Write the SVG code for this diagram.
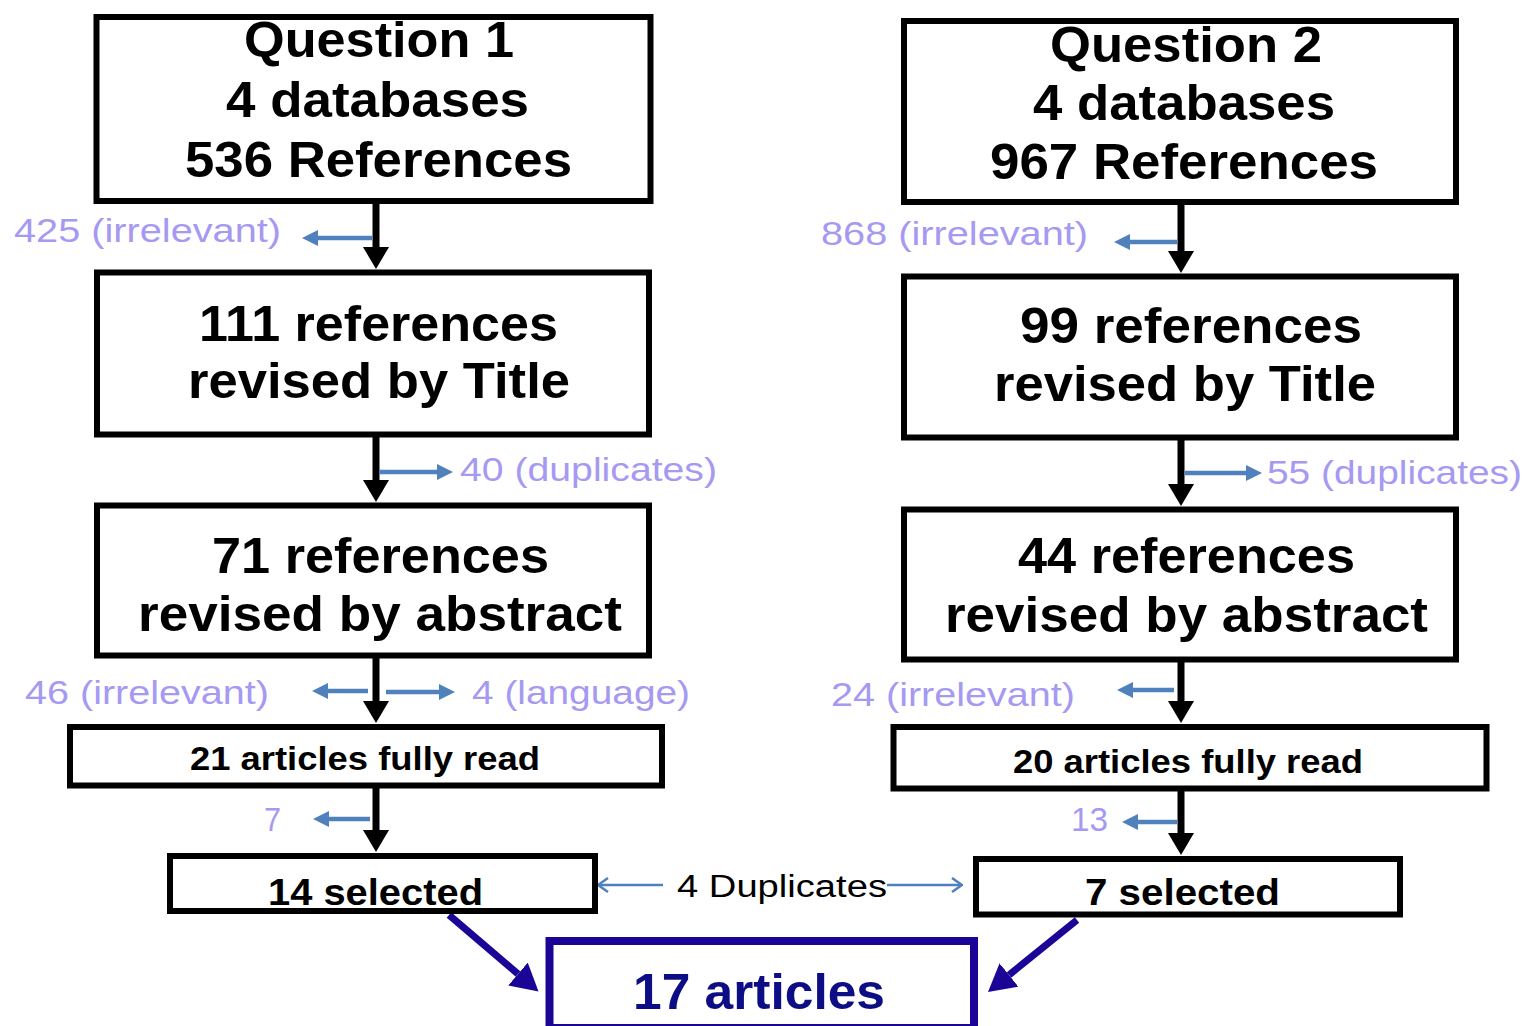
<svg xmlns="http://www.w3.org/2000/svg" width="1525" height="1026" viewBox="0 0 1525 1026">
  <style>
    .box { fill: #ffffff; stroke: #000000; stroke-width: 6; }
    .final { fill: #ffffff; stroke: #1a0596; stroke-width: 8; }
    .t { font-family: "Liberation Sans", Arial, sans-serif; font-weight: bold; fill: #000000; }
    .big { font-size: 50px; }
    .mid { font-size: 33px; }
    .sel { font-size: 36px; }
    .note { font-family: "Liberation Sans", Arial, sans-serif; font-size: 34px; fill: #a699f2; }
    .dup { font-family: "Liberation Sans", Arial, sans-serif; font-size: 31px; fill: #000000; }
    .flow { stroke: #000000; stroke-width: 7; fill: none; }
    .side { stroke: #4f81bd; stroke-width: 4.5; fill: none; }
    .thin { stroke: #4f81bd; stroke-width: 2.5; fill: none; }
    .navy { stroke: #1a0596; stroke-width: 7; fill: none; }
  </style>
  <defs>
    <marker id="headBlack" markerUnits="userSpaceOnUse" viewBox="0 0 22 26" refX="0" refY="13" markerWidth="22" markerHeight="26" orient="auto">
      <path d="M0,0 L22,13 L0,26 Z" fill="#000000"/>
    </marker>
    <marker id="headBlue" markerUnits="userSpaceOnUse" viewBox="0 0 16 16" refX="0" refY="8" markerWidth="16" markerHeight="16" orient="auto">
      <path d="M0,0 L16,8 L0,16 Z" fill="#4f81bd"/>
    </marker>
    <marker id="headOpen" markerUnits="userSpaceOnUse" viewBox="0 0 12 16" refX="11" refY="8" markerWidth="12" markerHeight="16" orient="auto">
      <path d="M1,1 L11,8 L1,15" fill="none" stroke="#4f81bd" stroke-width="2.5"/>
    </marker>
    <marker id="headNavy" markerUnits="userSpaceOnUse" viewBox="0 0 27 30" refX="0" refY="15" markerWidth="27" markerHeight="30" orient="auto">
      <path d="M0,0 L27,15 L0,30 Z" fill="#1a0596"/>
    </marker>
  </defs>

  <!-- connectors -->
  <g id="connectors">
    <!-- main vertical flow, left column -->
    <line class="flow" x1="376" y1="204" x2="376" y2="247" marker-end="url(#headBlack)"/>
    <line class="flow" x1="376" y1="437" x2="376" y2="480" marker-end="url(#headBlack)"/>
    <line class="flow" x1="376" y1="658" x2="376" y2="701" marker-end="url(#headBlack)"/>
    <line class="flow" x1="376" y1="788" x2="376" y2="830" marker-end="url(#headBlack)"/>
    <!-- main vertical flow, right column -->
    <line class="flow" x1="1181" y1="204" x2="1181" y2="251" marker-end="url(#headBlack)"/>
    <line class="flow" x1="1181" y1="440" x2="1181" y2="484" marker-end="url(#headBlack)"/>
    <line class="flow" x1="1181" y1="662" x2="1181" y2="701" marker-end="url(#headBlack)"/>
    <line class="flow" x1="1181" y1="791" x2="1181" y2="833" marker-end="url(#headBlack)"/>
    <!-- exclusions branching off the flow -->
    <line class="side" x1="372" y1="238" x2="318" y2="238" marker-end="url(#headBlue)"/>
    <line class="side" x1="1177" y1="242" x2="1130" y2="242" marker-end="url(#headBlue)"/>
    <line class="side" x1="379" y1="472" x2="437" y2="472" marker-end="url(#headBlue)"/>
    <line class="side" x1="1185" y1="473" x2="1246" y2="473" marker-end="url(#headBlue)"/>
    <line class="side" x1="368" y1="691" x2="328" y2="691" marker-end="url(#headBlue)"/>
    <line class="side" x1="386" y1="692" x2="439" y2="692" marker-end="url(#headBlue)"/>
    <line class="side" x1="1174" y1="690" x2="1133" y2="690" marker-end="url(#headBlue)"/>
    <line class="side" x1="370" y1="819" x2="329" y2="819" marker-end="url(#headBlue)"/>
    <line class="side" x1="1177" y1="822" x2="1138" y2="822" marker-end="url(#headBlue)"/>
    <!-- duplicates between the two selections -->
    <line class="thin" x1="663" y1="885" x2="598" y2="885" marker-end="url(#headOpen)"/>
    <line class="thin" x1="887" y1="885" x2="962" y2="885" marker-end="url(#headOpen)"/>
    <!-- merge into the final set -->
    <line class="navy" x1="449" y1="915" x2="518" y2="974" marker-end="url(#headNavy)"/>
    <line class="navy" x1="1077" y1="920" x2="1009" y2="975" marker-end="url(#headNavy)"/>
  </g>

  <!-- left column -->
  <g id="q1">
    <rect class="box" x="96.5" y="17" width="554" height="184"/>
    <text class="t big" x="244" y="57" textLength="270" lengthAdjust="spacingAndGlyphs">Question 1</text>
    <text class="t big" x="226" y="117" textLength="303" lengthAdjust="spacingAndGlyphs">4 databases</text>
    <text class="t big" x="185" y="177" textLength="387" lengthAdjust="spacingAndGlyphs">536 References</text>
  </g>
  <g id="q1-title">
    <rect class="box" x="97" y="272.5" width="552" height="162"/>
    <text class="t big" x="199" y="341" textLength="359" lengthAdjust="spacingAndGlyphs">111 references</text>
    <text class="t big" x="188" y="398" textLength="382" lengthAdjust="spacingAndGlyphs">revised by Title</text>
  </g>
  <g id="q1-abstract">
    <rect class="box" x="97" y="505.5" width="552" height="150"/>
    <text class="t big" x="212" y="573" textLength="337" lengthAdjust="spacingAndGlyphs">71 references</text>
    <text class="t big" x="138" y="631" textLength="484" lengthAdjust="spacingAndGlyphs">revised by abstract</text>
  </g>
  <g id="q1-read">
    <rect class="box" x="70" y="727" width="592" height="58.5"/>
    <text class="t mid" x="190" y="770" textLength="350" lengthAdjust="spacingAndGlyphs">21 articles fully read</text>
  </g>
  <g id="q1-selected">
    <rect class="box" x="170" y="856" width="425" height="55"/>
    <text class="t sel" x="268" y="905" textLength="215" lengthAdjust="spacingAndGlyphs">14 selected</text>
  </g>

  <!-- right column -->
  <g id="q2">
    <rect class="box" x="904" y="21" width="552" height="181"/>
    <text class="t big" x="1050" y="62" textLength="272" lengthAdjust="spacingAndGlyphs">Question 2</text>
    <text class="t big" x="1033" y="120" textLength="302" lengthAdjust="spacingAndGlyphs">4 databases</text>
    <text class="t big" x="990" y="179" textLength="388" lengthAdjust="spacingAndGlyphs">967 References</text>
  </g>
  <g id="q2-title">
    <rect class="box" x="904" y="276.5" width="552" height="161"/>
    <text class="t big" x="1020" y="343" textLength="342" lengthAdjust="spacingAndGlyphs">99 references</text>
    <text class="t big" x="994" y="401" textLength="382" lengthAdjust="spacingAndGlyphs">revised by Title</text>
  </g>
  <g id="q2-abstract">
    <rect class="box" x="904" y="509.5" width="552" height="150"/>
    <text class="t big" x="1018" y="573" textLength="337" lengthAdjust="spacingAndGlyphs">44 references</text>
    <text class="t big" x="945" y="632" textLength="483" lengthAdjust="spacingAndGlyphs">revised by abstract</text>
  </g>
  <g id="q2-read">
    <rect class="box" x="893.5" y="727" width="593" height="61.5"/>
    <text class="t mid" x="1013" y="773" textLength="350" lengthAdjust="spacingAndGlyphs">20 articles fully read</text>
  </g>
  <g id="q2-selected">
    <rect class="box" x="976" y="859" width="424" height="55.5"/>
    <text class="t sel" x="1085" y="905" textLength="195" lengthAdjust="spacingAndGlyphs">7 selected</text>
  </g>

  <!-- final set -->
  <g id="final">
    <rect class="final" x="549.5" y="941" width="424.5" height="87"/>
    <text class="t big" x="633" y="1009" textLength="252" lengthAdjust="spacingAndGlyphs" style="fill:#0d0d85">17 articles</text>
  </g>

  <!-- exclusion counts -->
  <g id="notes">
    <text class="note" x="14" y="242" textLength="267" lengthAdjust="spacingAndGlyphs">425 (irrelevant)</text>
    <text class="note" x="821" y="245" textLength="267" lengthAdjust="spacingAndGlyphs">868 (irrelevant)</text>
    <text class="note" x="460" y="481" textLength="257" lengthAdjust="spacingAndGlyphs">40 (duplicates)</text>
    <text class="note" x="1267" y="484" textLength="255" lengthAdjust="spacingAndGlyphs">55 (duplicates)</text>
    <text class="note" x="25" y="704" textLength="244" lengthAdjust="spacingAndGlyphs">46 (irrelevant)</text>
    <text class="note" x="472" y="704" textLength="218" lengthAdjust="spacingAndGlyphs">4 (language)</text>
    <text class="note" x="831" y="706" textLength="244" lengthAdjust="spacingAndGlyphs">24 (irrelevant)</text>
    <text class="note" x="264" y="831" textLength="17" lengthAdjust="spacingAndGlyphs">7</text>
    <text class="note" x="1071" y="831" textLength="37" lengthAdjust="spacingAndGlyphs">13</text>
    <text class="dup" x="677" y="897" textLength="210" lengthAdjust="spacingAndGlyphs">4 Duplicates</text>
  </g>
</svg>
